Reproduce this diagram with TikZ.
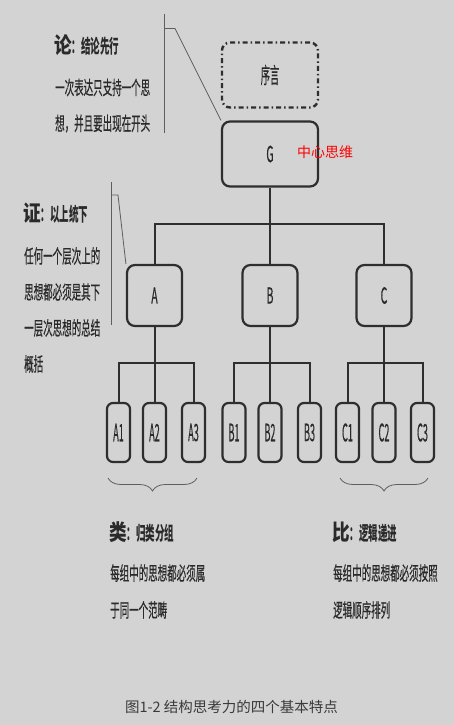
\documentclass[tikz,border=0pt]{standalone}
\usepackage{fontspec}
\usepackage{graphicx}
\setmainfont{Noto Sans CJK SC}
\newfontfamily\medf{Noto Sans CJK SC}[FakeBold=0.6]
\usetikzlibrary{decorations.pathreplacing}
\definecolor{bg}{HTML}{D3D3D3}
\definecolor{lc}{HTML}{2E2E2E}
\definecolor{tc}{HTML}{2A2A2A}
\definecolor{thinc}{HTML}{5E5E5E}
\definecolor{capc}{HTML}{3A3A3A}
\newcommand{\bodytxt}[1]{\scalebox{0.5}[1]{\medf\fontsize{19}{19}\selectfont #1}}
\newcommand{\headtxt}[2]{{\bfseries\scalebox{0.8}[1]{\fontsize{22}{22}\selectfont #1}\scalebox{0.5}[1]{\fontsize{19}{19}\selectfont ：#2}}}
\newcommand{\boxlab}[1]{\scalebox{0.48}[1]{\medf\fontsize{22}{22}\selectfont #1}}
\newcommand{\prelab}[1]{\scalebox{0.42}[1]{\medf\fontsize{22}{22}\selectfont #1}}
\newcommand{\leaflab}[1]{\scalebox{0.38}[1]{\medf\fontsize{24}{24}\selectfont #1}}
\begin{document}
\begin{tikzpicture}[x=1pt,y=-1pt,
  box/.style={draw=lc,line width=2.2pt,rounded corners=8pt,inner sep=0pt,text=tc},
  bigbox/.style={box,minimum width=96pt,minimum height=65pt},
  midbox/.style={box,minimum width=55pt,minimum height=61pt},
  leafbox/.style={box,minimum width=23pt,minimum height=59pt,rounded corners=6pt},
  conn/.style={draw=lc,line width=2pt},
  callout/.style={draw=thinc,line width=0.8pt},
  bracefx/.style={draw=thinc,line width=0.8pt,decorate,decoration={brace,mirror,amplitude=13pt}},
  txt/.style={anchor=west,inner sep=0pt,text=tc},
  htxt/.style={anchor=base west,inner sep=0pt,text=tc},
]
\fill[bg] (0,0) rectangle (454,725);
\useasboundingbox (0,0) rectangle (454,725);

% top boxes
\node[bigbox,dash pattern=on 5pt off 3pt on 1.5pt off 3pt,line width=2.4pt] (pre) at (270,75) {\prelab{序言}};
\node[bigbox] (G) at (270,154) {\boxlab{G}};
\node[anchor=west,inner sep=0pt,text=red,font=\fontsize{14}{14}\selectfont] (red) at (297,152) {中心思维};

% second level
\node[midbox] (A) at (154.5,295.5) {\boxlab{A}};
\node[midbox] (B) at (270,295.5) {\boxlab{B}};
\node[midbox] (C) at (384,295.5) {\boxlab{C}};

% leaves
\node[leafbox] (A1) at (118.5,432.5) {\leaflab{A1}};
\node[leafbox] (A2) at (154.5,432.5) {\leaflab{A2}};
\node[leafbox] (A3) at (193.5,432.5) {\leaflab{A3}};
\node[leafbox] (B1) at (234,432.5) {\leaflab{B1}};
\node[leafbox] (B2) at (270,432.5) {\leaflab{B2}};
\node[leafbox] (B3) at (309.5,432.5) {\leaflab{B3}};
\node[leafbox] (C1) at (347.5,432.5) {\leaflab{C1}};
\node[leafbox] (C2) at (384,432.5) {\leaflab{C2}};
\node[leafbox] (C3) at (422.5,432.5) {\leaflab{C3}};

% connectors
\coordinate (h1) at (270,224);
\coordinate (ha) at (154.5,363);
\coordinate (hb) at (270,363);
\coordinate (hc) at (384,363);
\draw[conn] (G.south) -- (B.north);
\draw[conn] (A.north) |- (h1) -| (C.north);
\draw[conn] (A.south) -- (A2.north);
\draw[conn] (A1.north) |- (ha) -| (A3.north);
\draw[conn] (B.south) -- (B2.north);
\draw[conn] (B1.north) |- (hb) -| (B3.north);
\draw[conn] (C.south) -- (C2.north);
\draw[conn] (C1.north) |- (hc) -| (C3.north);

% callout brackets
\coordinate (l1a) at (164,14);
\coordinate (l1b) at (164,133);
\coordinate (l1t) at (164,28.5);
\coordinate (l1k) at (175,28.5);
\draw[callout] (l1a) -- (l1b);
\draw[callout] (l1t) -- (l1k) -- (G.north west);
\coordinate (l2a) at (111,182);
\coordinate (l2b) at (111,325);
\coordinate (l2t) at (111,195);
\coordinate (l2k) at (118,195);
\draw[callout] (l2a) -- (l2b);
\draw[callout] (l2t) -- (l2k) -- (A.north west);

% braces
\coordinate (bra) at (108,478);
\coordinate (brb) at (197,478);
\coordinate (brc) at (340,478);
\coordinate (brd) at (428,478);
\draw[bracefx] (bra) -- (brb);
\draw[bracefx] (brc) -- (brd);

% texts
\node[htxt] (t1) at (54,53) {\headtxt{论}{结论先行}};
\node[txt] (t1a) at (55,87.5) {\bodytxt{一次表达只支持一个思}};
\node[txt] (t1b) at (55,123.5) {\bodytxt{想，并且要出现在开头}};

\node[htxt] (t2) at (23,221) {\headtxt{证}{以上统下}};
\node[txt] (t2a) at (24,256) {\bodytxt{任何一个层次上的}};
\node[txt] (t2b) at (24,292) {\bodytxt{思想都必须是其下}};
\node[txt] (t2c) at (24,328) {\bodytxt{一层次思想的总结}};
\node[txt] (t2d) at (24,364) {\bodytxt{概括}};

\node[htxt] (t3) at (109,540) {\headtxt{类}{归类分组}};
\node[txt] (t3a) at (110,573) {\bodytxt{每组中的思想都必须属}};
\node[txt] (t3b) at (110,610) {\bodytxt{于同一个范畴}};

\node[htxt] (t4) at (332,540) {\headtxt{比}{逻辑递进}};
\node[txt] (t4a) at (333,573) {\bodytxt{每组中的思想都必须按照}};
\node[txt] (t4b) at (333,610) {\bodytxt{逻辑顺序排列}};

\node[inner sep=0pt,text=capc,font=\fontsize{14.5}{14.5}\selectfont] (cap) at (231.5,707) {图1-2 结构思考力的四个基本特点};
\end{tikzpicture}
\end{document}
